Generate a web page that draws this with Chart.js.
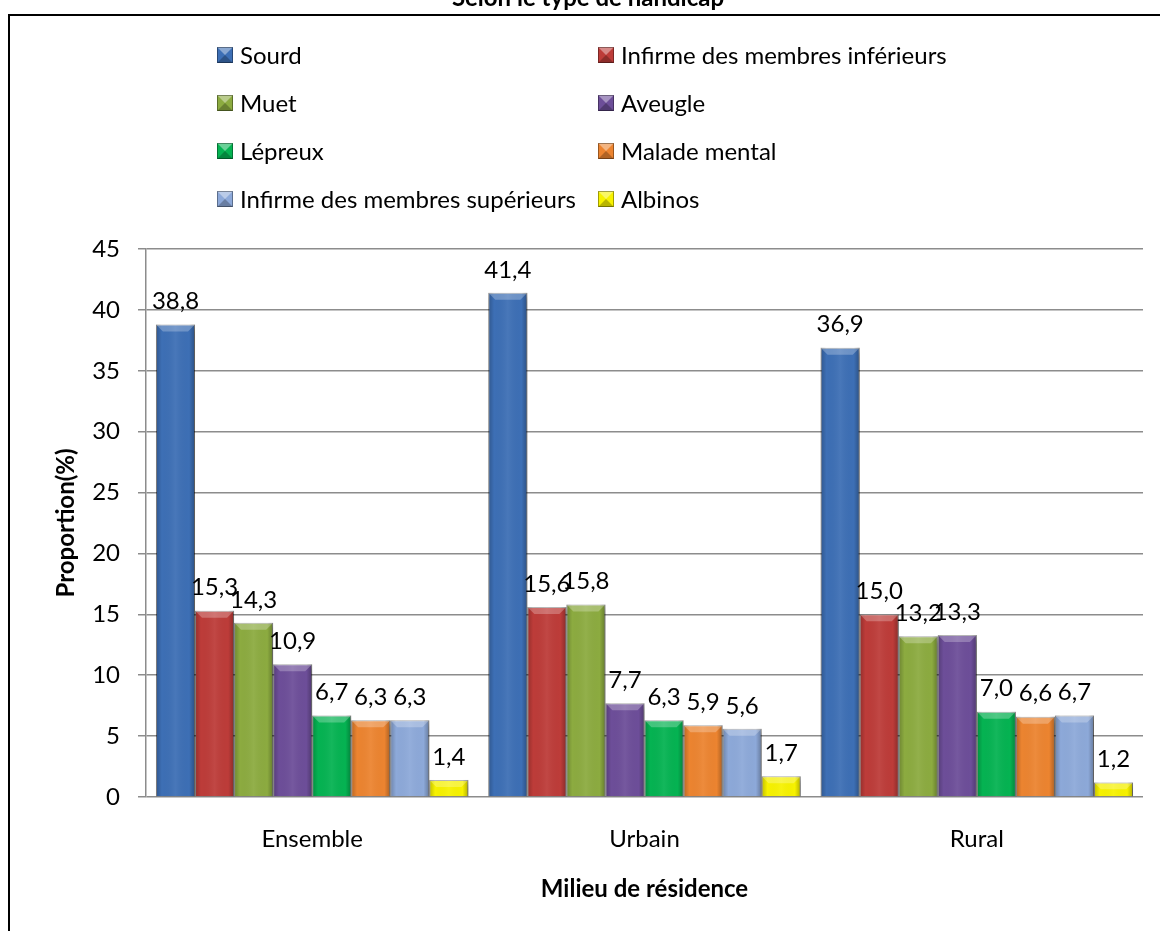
<!DOCTYPE html>
<html>
<head>
<meta charset="utf-8">
<script src="https://cdn.jsdelivr.net/npm/chart.js@4.4.1/dist/chart.umd.min.js"></script>
<style>
  html, body { margin: 0; padding: 0; background: #fff; }
  canvas { display: block; }
</style>
</head>
<body>
<canvas id="chart" width="1160" height="931"></canvas>
<script>
// data
const titleText = 'Selon le type de handicap';
const categories = ['Ensemble', 'Urbain', 'Rural'];
const seriesNames = [
  'Sourd', 'Infirme des membres inférieurs', 'Muet', 'Aveugle',
  'Lépreux', 'Malade mental', 'Infirme des membres supérieurs', 'Albinos'
];
const sourd = [38.8, 41.4, 36.9];
const infirmeInf = [15.3, 15.6, 15.0];
const muet = [14.3, 15.8, 13.2];
const aveugle = [10.9, 7.7, 13.3];
const lepreux = [6.7, 6.3, 7.0];
const maladeMental = [6.3, 5.9, 6.6];
const infirmeSup = [6.3, 5.6, 6.7];
const albinos = [1.4, 1.7, 1.2];
const yTicks = [0, 5, 10, 15, 20, 25, 30, 35, 40, 45];

const seriesValues = [sourd, infirmeInf, muet, aveugle, lepreux, maladeMental, infirmeSup, albinos];
const colors = ['#3D6FB5', '#BD3C39', '#8CAB40', '#6D4E99', '#05B352', '#EC8430', '#8DA9D9', '#F7F200'];

const FONT = 'Lato, "Open Sans", sans-serif';

const fmt = v => v.toFixed(1).replace('.', ',');

// bevel overlay, a rough take on the Excel look
function bevelBar(ctx, l, t, w, h) {
  const r = l + w;
  const b = Math.min(7, h / 2);
  const g = ctx.createLinearGradient(l, 0, r, 0);
  g.addColorStop(0, 'rgba(0,0,0,0.22)');
  g.addColorStop(0.15, 'rgba(0,0,0,0)');
  g.addColorStop(0.5, 'rgba(255,255,255,0.06)');
  g.addColorStop(0.85, 'rgba(0,0,0,0)');
  g.addColorStop(1, 'rgba(0,0,0,0.28)');
  ctx.fillStyle = g;
  ctx.fillRect(l, t, w, h);
  ctx.beginPath();
  ctx.moveTo(l, t);
  ctx.lineTo(r, t);
  ctx.lineTo(r - b, t + b);
  ctx.lineTo(l + b, t + b);
  ctx.closePath();
  ctx.fillStyle = 'rgba(255,255,255,0.25)';
  ctx.fill();
}

const decor = {
  id: 'decor',
  beforeDraw(chart) {
    const ctx = chart.ctx;
    ctx.save();
    ctx.fillStyle = '#fff';
    ctx.fillRect(0, 0, chart.width, chart.height);
    // outer frame, runs off the right and bottom edges
    ctx.strokeStyle = '#000';
    ctx.lineWidth = 2;
    ctx.strokeRect(9, 15, chart.width + 20, chart.height + 20);
    // title, cut at the top like the reference
    ctx.fillStyle = '#000';
    ctx.font = 'bold 24px ' + FONT;
    ctx.textAlign = 'center';
    ctx.textBaseline = 'alphabetic';
    ctx.fillText(titleText, 588, 6);
    // legend in two columns
    ctx.font = '24px ' + FONT;
    ctx.textAlign = 'left';
    ctx.textBaseline = 'middle';
    chart.data.datasets.forEach((ds, i) => {
      const col = i % 2, row = Math.floor(i / 2);
      const mx = col === 0 ? 217 : 598;
      const cy = 55 + row * 48;
      const s = 16, top = cy - s / 2;
      ctx.fillStyle = ds.backgroundColor;
      ctx.fillRect(mx, top, s, s);
      ctx.beginPath();
      ctx.moveTo(mx, top); ctx.lineTo(mx + s, top); ctx.lineTo(mx + s / 2, cy); ctx.closePath();
      ctx.fillStyle = 'rgba(255,255,255,0.4)';
      ctx.fill();
      ctx.beginPath();
      ctx.moveTo(mx, top + s); ctx.lineTo(mx + s, top + s); ctx.lineTo(mx + s / 2, cy); ctx.closePath();
      ctx.fillStyle = 'rgba(0,0,0,0.25)';
      ctx.fill();
      ctx.strokeStyle = 'rgba(0,0,0,0.35)';
      ctx.lineWidth = 1;
      ctx.strokeRect(mx + 0.5, top + 0.5, s - 1, s - 1);
      ctx.fillStyle = '#000';
      ctx.fillText(ds.label, mx + 23, cy + 1);
    });
    ctx.restore();
  },
  beforeDatasetsDraw(chart) {
    const ctx = chart.ctx;
    ctx.save();
    ctx.shadowColor = 'rgba(0,0,0,0.35)';
    ctx.shadowBlur = 6;
    ctx.shadowOffsetX = 2;
    ctx.shadowOffsetY = 3;
  },
  afterDatasetsDraw(chart) {
    const ctx = chart.ctx;
    ctx.restore();
    ctx.save();
    chart.data.datasets.forEach((ds, i) => {
      chart.getDatasetMeta(i).data.forEach(bar => {
        const p = bar.getProps(['x', 'y', 'base', 'width'], true);
        bevelBar(ctx, p.x - p.width / 2, p.y, p.width, p.base - p.y);
      });
    });
    ctx.fillStyle = '#000';
    ctx.font = '24px ' + FONT;
    ctx.textAlign = 'center';
    ctx.textBaseline = 'bottom';
    chart.data.datasets.forEach((ds, i) => {
      chart.getDatasetMeta(i).data.forEach((bar, j) => {
        const p = bar.getProps(['x', 'y'], true);
        ctx.fillText(fmt(ds.data[j]), p.x, p.y - 11);
      });
    });
    ctx.restore();
  }
};

new Chart(document.getElementById('chart'), {
  type: 'bar',
  data: {
    labels: categories,
    datasets: seriesValues.map((vals, i) => ({
      label: seriesNames[i],
      data: vals,
      backgroundColor: colors[i],
      borderColor: 'rgba(0,0,0,0.35)',
      borderWidth: 1,
      categoryPercentage: 0.94,
      barPercentage: 1,
      clip: false
    }))
  },
  options: {
    responsive: false,
    devicePixelRatio: 1,
    animation: false,
    layout: { padding: { top: 249, right: 17, left: 0, bottom: 0 } },
    plugins: {
      legend: { display: false },
      title: { display: false },
      tooltip: { enabled: false }
    },
    scales: {
      x: {
        afterFit: scale => { scale.height = 134; },
        grid: { display: false, drawTicks: false },
        border: { display: false },
        ticks: { color: '#000', font: { family: FONT, size: 24 }, padding: 28 },
        title: {
          display: true,
          text: 'Milieu de résidence',
          color: '#000',
          font: { family: FONT, size: 24, weight: 'bold' },
          padding: { top: 0, bottom: 27 }
        }
      },
      y: {
        min: 0,
        max: 45,
        afterFit: scale => { scale.width = 146; },
        afterBuildTicks: scale => { scale.ticks = yTicks.map(v => ({ value: v })); },
        grid: { color: '#8c8c8c', lineWidth: 1.5, tickLength: 8 },
        border: { color: '#8c8c8c', width: 1.5 },
        ticks: { color: '#000', font: { family: FONT, size: 24 }, padding: 18 },
        title: {
          display: true,
          text: 'Proportion(%)',
          color: '#000',
          font: { family: FONT, size: 24, weight: 'bold' },
          padding: { top: 52, bottom: 0 }
        }
      }
    }
  },
  plugins: [decor]
});
</script>
</body>
</html>
